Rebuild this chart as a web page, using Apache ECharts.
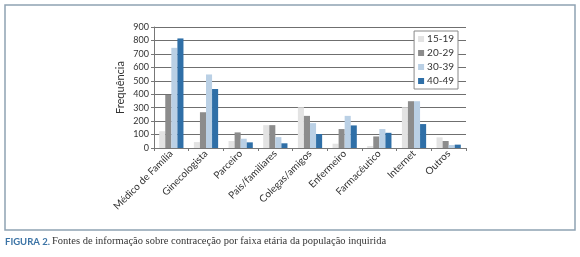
<!DOCTYPE html>
<html>
<head>
<meta charset="utf-8">
<script src="https://cdn.jsdelivr.net/npm/echarts@6/dist/echarts.min.js"></script>
<style>
  html, body { margin: 0; padding: 0; background: #fff; }
  #chart { width: 580px; height: 257px; }
</style>
</head>
<body>
<div id="chart"></div>
<script>
const categories = ['Médico de Família', 'Ginecologista', 'Parceiro', 'Pais/familiares',
  'Colegas/amigos', 'Enfermeiro', 'Farmacêutico', 'Internet', 'Outros'];
const ageGroups = ['15-19', '20-29', '30-39', '40-49'];
const values15_19 = [125, 44, 52, 170, 303, 32, 15, 303, 79];
const values20_29 = [395, 266, 116, 170, 239, 141, 86, 348, 52];
const values30_39 = [745, 547, 69, 81, 185, 239, 141, 348, 22];
const values40_49 = [815, 439, 42, 35, 104, 168, 113, 178, 25];
const colors = ['#e3e3e3', '#8c8c8c', '#bad0e5', '#2f6fa7'];

const chart = echarts.init(document.getElementById('chart'));
const font = 'Lato, "Open Sans", sans-serif';

const seriesData = [values15_19, values20_29, values30_39, values40_49];

chart.setOption({
  animation: false,
  grid: { left: 154, right: 114, top: 27, bottom: 109 },
  legend: {
    orient: 'vertical',
    right: 122,
    top: 31,
    itemWidth: 6,
    itemHeight: 6,
    itemGap: 4,
    padding: [3, 4, 3, 4],
    backgroundColor: '#fff',
    borderColor: '#888',
    borderWidth: 1,
    icon: 'rect',
    textStyle: { fontFamily: font, fontSize: 10, color: '#333', padding: [0, 0, 0, -2] },
    data: ageGroups
  },
  xAxis: {
    type: 'category',
    data: categories,
    axisLine: { lineStyle: { color: '#777' } },
    axisTick: { show: true, length: 3, lineStyle: { color: '#777' } },
    axisLabel: { rotate: 45, interval: 0, fontFamily: font, fontSize: 10, color: '#333', margin: 4 }
  },
  yAxis: {
    type: 'value',
    min: 0,
    max: 900,
    interval: 100,
    name: 'Frequência',
    nameLocation: 'middle',
    nameGap: 28,
    nameMoveOverlap: false,
    nameTextStyle: { fontFamily: font, fontSize: 11, color: '#333' },
    axisLine: { show: true, lineStyle: { color: '#777' } },
    axisTick: { show: true, length: 3, lineStyle: { color: '#777' } },
    axisLabel: { fontFamily: font, fontSize: 9, color: '#333', margin: 5 },
    splitLine: { lineStyle: { color: '#6f6f6f', width: 1 } }
  },
  series: ageGroups.map((name, i) => ({
    name: name,
    type: 'bar',
    data: seriesData[i],
    barGap: '0%',
    barCategoryGap: '30%',
    itemStyle: { color: colors[i] }
  })),
  graphic: [
    {
      type: 'rect',
      shape: { x: 5, y: 5, width: 570, height: 225 },
      style: { fill: null, stroke: '#8fa2b3', lineWidth: 1.5 },
      silent: true
    },
    {
      type: 'text',
      left: 5,
      top: 237,
      style: {
        text: 'FIGURA 2.',
        fontFamily: 'Lato, sans-serif',
        fontWeight: 'bold',
        fontSize: 9.5,
        fill: '#3b73a5'
      }
    },
    {
      type: 'text',
      left: 52,
      top: 236,
      style: {
        text: 'Fontes de informação sobre contraceção por faixa etária da população inquirida',
        fontFamily: 'Liberation Serif',
        fontSize: 10.5,
        fill: '#333'
      }
    }
  ]
});
</script>
</body>
</html>
